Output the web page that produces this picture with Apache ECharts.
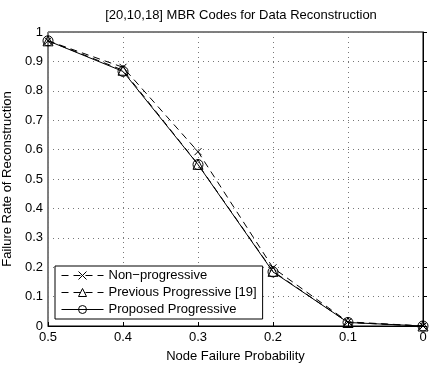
<!DOCTYPE html>
<html>
<head>
<meta charset="utf-8">
<script src="https://cdn.jsdelivr.net/npm/echarts@6/dist/echarts.min.js"></script>
<style>
  html, body { margin: 0; padding: 0; background: #fff; }
  #chart { width: 436px; height: 366px; }
</style>
</head>
<body>
<div id="chart"></div>
<script>
// values
var probs = [0.5, 0.4, 0.3, 0.2, 0.1, 0];
var nonProgressive = [0.97, 0.88, 0.593, 0.198, 0.014, 0.0];
var previousProgressive = [0.97, 0.87, 0.55, 0.186, 0.012, 0.0];
var proposedProgressive = [0.97, 0.866, 0.549, 0.184, 0.012, 0.0];
var seriesNames = ['Non\u2212progressive', 'Previous Progressive [19]', 'Proposed Progressive'];

var myChart = echarts.init(document.getElementById('chart'));
var font = 'Liberation Sans, Arial, Helvetica, sans-serif';

function pairs(vals) {
    var out = [];
    for (var i = 0; i < probs.length; i++) out.push([probs[i], vals[i]]);
    return out;
}

var crossPath = 'path://M0,0L10,10M10,0L0,10';
var tick = { inside: true, length: 4, lineStyle: { color: '#000' } };
var grid = { show: true, lineStyle: { color: '#777', type: [1, 4] } };

option = {
    animation: false,
    backgroundColor: '#fff',
    title: {
        text: '[20,10,18] MBR Codes for Data Reconstruction',
        left: 236,
        textAlign: 'center',
        top: 4,
        textStyle: { fontFamily: font, fontSize: 13, fontWeight: 'normal', color: '#000' }
    },
    grid: {
        left: 48, right: 13, top: 32, bottom: 40,
        outerBoundsMode: 'none',
        show: true, borderColor: '#000', borderWidth: 1, backgroundColor: '#fff'
    },
    legend: {
        left: 55, top: 266,
        orient: 'vertical',
        backgroundColor: '#fff',
        borderColor: '#000', borderWidth: 1,
        borderRadius: 0,
        padding: [3, 6, 3, 6],
        itemGap: 4,
        itemWidth: 42, itemHeight: 10,
        lineStyle: { width: 1 },
        itemStyle: { borderWidth: 1 },
        textStyle: { fontFamily: font, fontSize: 13, color: '#000' },
        data: seriesNames
    },
    xAxis: {
        type: 'value', min: 0, max: 0.5, interval: 0.1, inverse: true,
        name: 'Node Failure Probability', nameLocation: 'middle', nameGap: 24,
        nameTextStyle: { fontFamily: font, fontSize: 13, color: '#000' },
        axisLine: { lineStyle: { color: '#000' } },
        axisTick: tick,
        axisLabel: { fontFamily: font, fontSize: 13, color: '#000', margin: 5,
            formatter: function (v) { return v === 0 ? '0' : String(Math.round(v * 10) / 10); } },
        splitLine: grid
    },
    yAxis: {
        type: 'value', min: 0, max: 1, interval: 0.1,
        name: 'Failure Rate of Reconstruction', nameLocation: 'middle', nameGap: 27,
        nameTextStyle: { fontFamily: font, fontSize: 13, color: '#000' },
        axisLine: { lineStyle: { color: '#000' } },
        axisTick: tick,
        axisLabel: { fontFamily: font, fontSize: 13, color: '#000', margin: 5,
            formatter: function (v) { return String(Math.round(v * 10) / 10); } },
        splitLine: grid
    },
    series: [
        {
            name: seriesNames[0], type: 'line', data: pairs(nonProgressive),
            symbol: crossPath, symbolSize: 7, z: 3,
            lineStyle: { color: '#000', width: 1, type: [7, 5] },
            itemStyle: { color: 'rgba(0,0,0,0)', borderColor: '#000', borderWidth: 1 }
        },
        {
            name: seriesNames[1], type: 'line', data: pairs(previousProgressive),
            symbol: 'triangle', symbolSize: 10, z: 3,
            lineStyle: { color: '#000', width: 1, type: [7, 5] },
            itemStyle: { color: 'rgba(255,255,255,0)', borderColor: '#000', borderWidth: 1 }
        },
        {
            name: seriesNames[2], type: 'line', data: pairs(proposedProgressive),
            symbol: 'circle', symbolSize: 10, z: 3,
            lineStyle: { color: '#000', width: 1, type: 'solid' },
            itemStyle: { color: 'rgba(255,255,255,0)', borderColor: '#000', borderWidth: 1 }
        }
    ]
};

myChart.setOption(option);
</script>
</body>
</html>
